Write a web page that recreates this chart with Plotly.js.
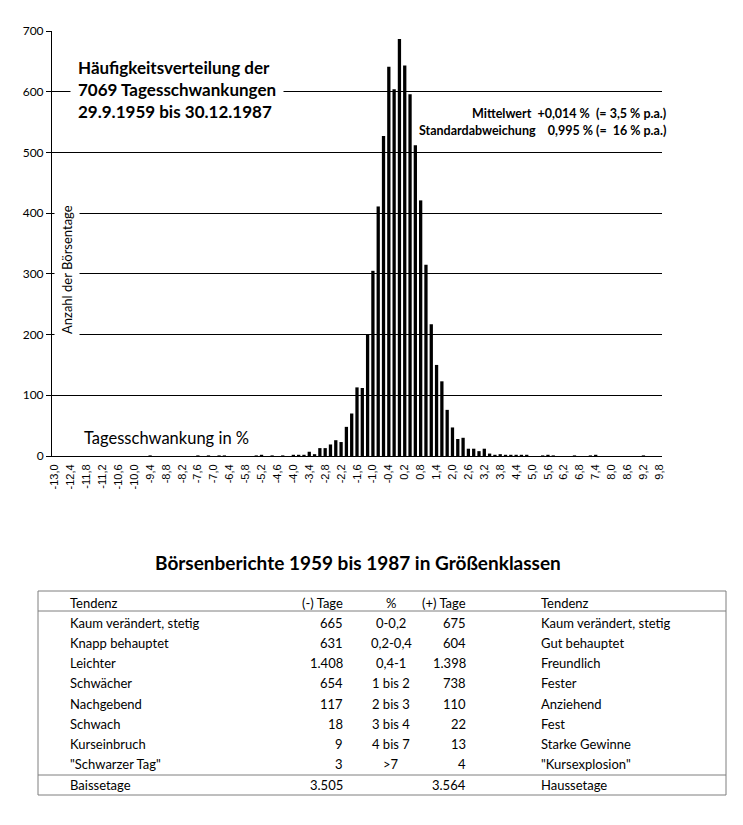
<!DOCTYPE html>
<html><head><meta charset="utf-8">
<script src="https://cdn.plot.ly/plotly-3.0.1.min.js"></script>
<style>body{margin:0;background:#fff}</style>
</head><body><div id="chart" style="width:743px;height:825px"></div>
<script>
// ---- chart data ----
const binLabels = [
"-13,0","-12,8","-12,6","-12,4","-12,2","-12,0","-11,8","-11,6","-11,4","-11,2",
"-11,0","-10,8","-10,6","-10,4","-10,2","-10,0","-9,8","-9,6","-9,4","-9,2",
"-9,0","-8,8","-8,6","-8,4","-8,2","-8,0","-7,8","-7,6","-7,4","-7,2",
"-7,0","-6,8","-6,6","-6,4","-6,2","-6,0","-5,8","-5,6","-5,4","-5,2",
"-5,0","-4,8","-4,6","-4,4","-4,2","-4,0","-3,8","-3,6","-3,4","-3,2",
"-3,0","-2,8","-2,6","-2,4","-2,2","-2,0","-1,8","-1,6","-1,4","-1,2",
"-1,0","-0,8","-0,6","-0,4","-0,2","0,0","0,2","0,4","0,6","0,8",
"1,0","1,2","1,4","1,6","1,8","2,0","2,2","2,4","2,6","2,8",
"3,0","3,2","3,4","3,6","3,8","4,0","4,2","4,4","4,6","4,8",
"5,0","5,2","5,4","5,6","5,8","6,0","6,2","6,4","6,6","6,8",
"7,0","7,2","7,4","7,6","7,8","8,0","8,2","8,4","8,6","8,8",
"9,0","9,2","9,4","9,6","9,8"];
const dayCounts = [
0,0,0,0,0,0,0,0,0,0,
0,0,0,0,0,0,0,0,1,0,
0,0,0,0,0,0,0,1,0,1,
0,1,1,0,0,0,0,0,1,2,
0,1,0,1,0,2,2,2,7,3,
13,13,19,26,23,48,70,113,112,200,
305,411,527,641,604,687,643,596,512,421,
315,217,150,123,76,47,28,30,12,12,
8,12,4,2,3,2,2,2,2,2,
0,0,1,2,1,0,0,0,1,0,
0,1,2,0,0,0,0,0,0,0,
0,1,0,0,0];
const xTickLabels = ["-13,0","-12,4","-11,8","-11,2","-10,6","-10,0","-9,4","-8,8","-8,2","-7,6",
"-7,0","-6,4","-5,8","-5,2","-4,6","-4,0","-3,4","-2,8","-2,2","-1,6","-1,0","-0,4",
"0,2","0,8","1,4","2,0","2,6","3,2","3,8","4,4","5,0","5,6","6,2","6,8","7,4","8,0","8,6","9,2","9,8"];
const yTickVals = [0,100,200,300,400,500,600,700];

// ---- texts ----
const chartTitleLines = ["Häufigkeitsverteilung der","7069 Tagesschwankungen","29.9.1959 bis 30.12.1987"];
const statLines = ["Mittelwert\u00a0 +0,014 %\u00a0 (= 3,5 % p.a.)","Standardabweichung\u00a0\u00a0\u00a0 0,995 % (=\u00a0 16 % p.a.)"];
const xAxisText = "Tagesschwankung in %";
const yAxisText = "Anzahl der Börsentage";

// ---- table data ----
const tableTitle = "Börsenberichte 1959 bis 1987 in Größenklassen";
const tableHeader = ["Tendenz","(-) Tage","%","(+) Tage","Tendenz"];
const tendenzNeg = ["Kaum verändert, stetig","Knapp behauptet","Leichter","Schwächer","Nachgebend","Schwach","Kurseinbruch","\"Schwarzer Tag\""];
const tageNeg = ["665","631","1.408","654","117","18","9","3"];
const pctClass = ["0-0,2","0,2-0,4","0,4-1","1 bis 2","2 bis 3","3 bis 4","4 bis 7",">7"];
const tagePos = ["675","604","1.398","738","110","22","13","4"];
const tendenzPos = ["Kaum verändert, stetig","Gut behauptet","Freundlich","Fester","Anziehend","Fest","Starke Gewinne","\"Kursexplosion\""];
const totalsRow = ["Baissetage","3.505","","3.564","Haussetage"];

// ---- layout helpers (pixel -> paper) ----
const PL = 52, PR = 662, PT = 31, PB = 456;
const px = x => (x - PL) / (PR - PL);
const py = y => (PB - y) / (PB - PT);
const esc = s => s.replace(/&/g,"&amp;").replace(/</g,"&lt;").replace(/>/g,"&gt;");
const TF = "Lato, 'Open Sans', sans-serif";

const ann = [];
ann.push({xref:'paper',yref:'paper',x:px(70),y:py(89),xanchor:'left',yanchor:'middle',align:'left',
  text:'<b>'+chartTitleLines.join('<br>')+'</b>',showarrow:false,bgcolor:'#fff',borderpad:7,
  font:{family:TF,size:17,color:'#000'}});
ann.push({xref:'paper',yref:'paper',x:px(668),y:py(113),xanchor:'right',yanchor:'middle',align:'right',
  text:'<b>'+statLines[0]+'</b>',showarrow:false,font:{family:TF,size:12.5,color:'#000'}});
ann.push({xref:'paper',yref:'paper',x:px(668),y:py(130),xanchor:'right',yanchor:'middle',align:'right',
  text:'<b>'+statLines[1]+'</b>',showarrow:false,font:{family:TF,size:12.5,color:'#000'}});
ann.push({xref:'paper',yref:'paper',x:px(82),y:py(438),xanchor:'left',yanchor:'middle',
  text:xAxisText,showarrow:false,font:{family:TF,size:16.5,color:'#000'}});
ann.push({xref:'paper',yref:'paper',x:px(67),y:py(270),xanchor:'center',yanchor:'middle',textangle:-90,
  text:yAxisText,showarrow:false,bgcolor:'#fff',borderpad:4,font:{family:TF,size:13,color:'#000'}});
ann.push({xref:'paper',yref:'paper',x:px(358),y:py(562),xanchor:'center',yanchor:'middle',
  text:'<b>'+tableTitle+'</b>',showarrow:false,font:{family:TF,size:19,color:'#000'}});

// table columns: [x, anchor]
const cols = [[68,'left'],[345,'right'],[391,'center'],[468,'right'],[539,'left']];
function addRow(cells, yPix){
  cells.forEach((t,i)=>{
    if(!t) return;
    ann.push({xref:'paper',yref:'paper',x:px(cols[i][0]),y:py(yPix),xanchor:cols[i][1],yanchor:'middle',
      text:esc(t),showarrow:false,font:{family:TF,size:13,color:'#000'}});
  });
}
addRow(tableHeader, 603);
tendenzNeg.forEach((t,i)=>{
  addRow([t,tageNeg[i],pctClass[i],tagePos[i],tendenzPos[i]], 623 + i*20.15);
});
addRow(totalsRow, 785);

const shapes = [
  {type:'rect',xref:'paper',yref:'paper',x0:px(38),x1:px(726),y0:py(591),y1:py(795),line:{color:'#7f7f7f',width:1}},
  {type:'line',xref:'paper',yref:'paper',x0:px(38),x1:px(726),y0:py(611),y1:py(611),line:{color:'#7f7f7f',width:1}},
  {type:'line',xref:'paper',yref:'paper',x0:px(38),x1:px(726),y0:py(775),y1:py(775),line:{color:'#7f7f7f',width:1}}
];

const trace = {type:'bar',x:binLabels,y:dayCounts,marker:{color:'#000',line:{width:0}},hoverinfo:'x+y'};

const layout = {
  width:743,height:825,
  margin:{l:PL,r:743-PR,t:PT,b:825-PB,pad:0},
  paper_bgcolor:'#fff',plot_bgcolor:'#fff',
  showlegend:false,bargap:0.38,
  xaxis:{type:'category',categoryorder:'array',categoryarray:binLabels,
    tickmode:'array',tickvals:xTickLabels,ticktext:xTickLabels,tickangle:-90,
    tickfont:{family:"'Liberation Sans', Arial, sans-serif",size:11,color:'#000'},
    ticklabelstandoff:3,
    showline:true,linecolor:'#000',linewidth:1,showgrid:false,ticks:'',zeroline:false,
    range:[-0.5,binLabels.length-0.5],fixedrange:true},
  yaxis:{range:[0,700],tickmode:'array',tickvals:yTickVals,
    tickfont:{family:TF,size:12,color:'#000'},
    showline:true,linecolor:'#000',linewidth:1,ticks:'outside',ticklen:5,tickcolor:'#000',
    showgrid:true,gridcolor:'#000',gridwidth:1,zeroline:false,fixedrange:true},
  annotations:ann,shapes:shapes
};
Plotly.newPlot('chart',[trace],layout,{displayModeBar:false,staticPlot:true});
</script>
</body></html>
